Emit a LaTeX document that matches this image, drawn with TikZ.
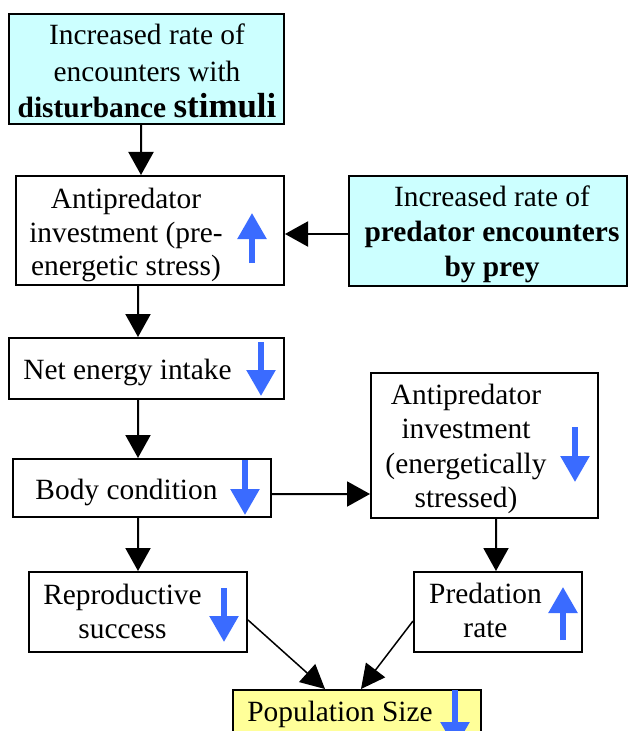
\documentclass[tikz,border=0pt]{standalone}
\usepackage{fontspec}
\setmainfont{Liberation Serif}
\usetikzlibrary{arrows.meta}
\definecolor{cyanfill}{HTML}{CCFFFF}
\definecolor{yelfill}{HTML}{FFFF99}
\definecolor{indblue}{HTML}{3A6BFF}
\tikzset{
 box/.style={draw=black, line width=2bp, inner sep=0pt, fill=white},
 txt/.style={align=center, inner sep=0pt, font=\fontsize{29.5}{34}\selectfont},
 conn/.style={line width=2bp, -{Triangle[width=25bp,length=23bp]}},
 dconn/.style={line width=1.5bp, -{Triangle[width=24bp,length=24bp]}},
 ind/.style={draw=indblue, line width=5.5bp, -{Triangle[width=28bp,length=26bp]}, fill=indblue},
}
\begin{document}
\begin{tikzpicture}[x=1bp,y=-1bp]
\useasboundingbox (0,0) rectangle (628,731);
\clip (0,0) rectangle (628,731);
% boxes
\node[box, fill=cyanfill, minimum width=275bp, minimum height=110bp] (dist) at (146.5,69) {};
\node[box, minimum width=268bp, minimum height=109bp] (api1) at (150,230.5) {};
\node[box, fill=cyanfill, minimum width=278bp, minimum height=110bp] (pred) at (488,231) {};
\node[box, minimum width=275bp, minimum height=61bp] (net) at (146.5,368.5) {};
\node[box, minimum width=258bp, minimum height=58bp] (body) at (142,488) {};
\node[box, minimum width=227bp, minimum height=145bp] (api2) at (484.5,445.5) {};
\node[box, minimum width=218bp, minimum height=80bp] (repro) at (138,612) {};
\node[box, minimum width=168bp, minimum height=80bp] (predr) at (498,612) {};
\node[box, fill=yelfill, minimum width=248bp, minimum height=46bp] (pop) at (357,713) {};
% texts
\node[txt, font=\fontsize{29.5}{36.5}\selectfont] (distT) at (147,71) {Increased rate of\\encounters with\\\textbf{disturbance} {\fontsize{35}{36.5}\selectfont\textbf{stimuli}}};
\node[txt] (api1T) at (126,235) {Antipredator\\investment (pre-\\energetic stress)};
\node[txt, font=\fontsize{29.5}{35}\selectfont] (predT) at (492,234) {Increased rate of\\\textbf{predator encounters}\\\textbf{by prey}};
\node[txt] (netT) at (127.5,372) {Net energy intake};
\node[txt] (bodyT) at (126.5,492) {Body condition};
\node[txt, font=\fontsize{29.5}{34.5}\selectfont] (api2T) at (466,449) {Antipredator\\investment\\(energetically\\stressed)};
\node[txt] (reproT) at (122.5,611.5) {Reproductive\\success};
\node[txt] (predrT) at (485.5,610.5) {Predation\\rate};
\node[txt] (popT) at (340,714) {Population Size};
% connectors
\draw[conn] ([xshift=-5.5bp]dist.south) -- ([xshift=-9bp]api1.north);
\draw[conn] ([yshift=-3bp]pred.west) -- ([yshift=-3.5bp]api1.east);
\draw[conn] ([xshift=-12bp]api1.south) -- ([xshift=-8.5bp]net.north);
\draw[conn] ([xshift=-8.5bp]net.south) -- ([xshift=-4bp]body.north);
\draw[conn] ([yshift=-6bp]body.east) -- ([yshift=-48.5bp]api2.west);
\draw[conn] ([xshift=-4bp]body.south) -- (repro.north);
\draw[conn] ([xshift=11.5bp]api2.south) -- ([xshift=-2bp]predr.north);
\draw[dconn] ([yshift=-8bp]repro.east) -- ([xshift=-32bp]pop.north);
\draw[dconn] ([yshift=-9bp]predr.west) -- ([xshift=4bp]pop.north);
% indicator arrows
\draw[ind] (252,263) -- (252,213);
\draw[ind] (261,342) -- (261,396);
\draw[ind] (245,460) -- (245,515);
\draw[ind] (575,427) -- (575,482);
\draw[ind] (224,588) -- (224,642);
\draw[ind] (563,640) -- (563,587);
\draw[ind] (455,690) -- (455,748);
\end{tikzpicture}
\end{document}
